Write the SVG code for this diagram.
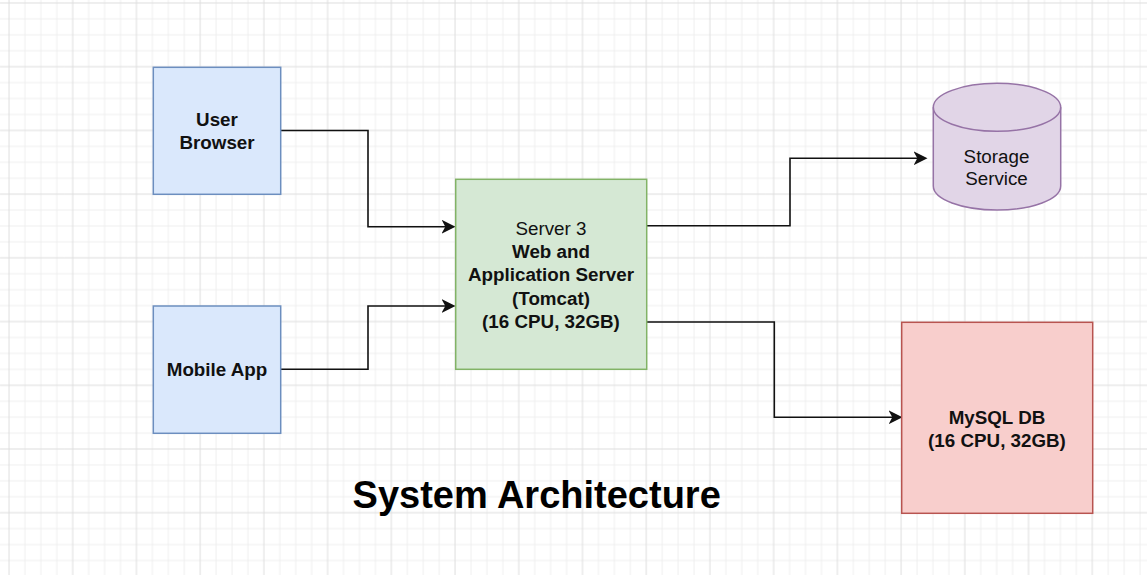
<svg xmlns="http://www.w3.org/2000/svg" width="1147" height="575" viewBox="0 0 1147 575">
  <style>
    .lbl { font-family: "Liberation Sans", Arial, Helvetica, sans-serif; font-size: 18.8px; fill: #111; text-anchor: middle; }
    .b { font-weight: bold; }
    .title { font-family: "Liberation Sans", Arial, Helvetica, sans-serif; font-size: 38px; font-weight: bold; fill: #000; text-anchor: middle; }
    .conn { fill: none; stroke: #111; stroke-width: 1.6; marker-end: url(#arrow); }
    .blue { fill: #dae8fc; stroke: #6c8ebf; stroke-width: 1.5; }
    .green { fill: #d5e8d4; stroke: #82b366; stroke-width: 1.5; }
    .purple { fill: #e1d5e7; stroke: #9673a6; stroke-width: 1.5; }
    .red { fill: #f8cecc; stroke: #b85450; stroke-width: 1.5; }
  </style>
  <defs>
    <pattern id="grid" patternUnits="userSpaceOnUse" x="1" y="-5" width="63.72" height="63.72">
      <path d="M23.93 0V63.72M39.86 0V63.72M55.79 0V63.72M0 23.93H63.72M0 39.86H63.72M0 55.79H63.72" stroke="#efefef" stroke-width="1" fill="none"/>
      <path d="M8 0V63.72M0 8H63.72" stroke="#dedede" stroke-width="1" fill="none"/>
    </pattern>
    <marker id="arrow" markerUnits="userSpaceOnUse" markerWidth="15" markerHeight="15" refX="10.5" refY="7" orient="auto">
      <path d="M0 0L14 7L0 14L3.8 7Z" fill="#111"/>
    </marker>
  </defs>
  <rect x="0" y="0" width="1147" height="575" fill="#ffffff"/>
  <rect x="0" y="0" width="1147" height="575" fill="url(#grid)"/>

  <g id="connectors">
    <path class="conn" d="M281 130.5H368V226.7H452"/>
    <path class="conn" d="M281 369.3H368V306H452"/>
    <path class="conn" d="M647 225.7H790V158.3H924"/>
    <path class="conn" d="M647 322H774.3V417.3H899"/>
  </g>

  <g id="user-browser">
    <rect class="blue" x="153.3" y="67.3" width="127.4" height="127"/>
    <text class="lbl b" x="217" y="126">User</text>
    <text class="lbl b" x="217" y="149.3">Browser</text>
  </g>

  <g id="mobile-app">
    <rect class="blue" x="153.3" y="306" width="127.4" height="127.3"/>
    <text class="lbl b" x="217" y="376">Mobile App</text>
  </g>

  <g id="server">
    <rect class="green" x="455.7" y="179.3" width="191" height="190"/>
    <text class="lbl" x="551" y="234.7">Server 3</text>
    <text class="lbl b" x="551" y="258">Web and</text>
    <text class="lbl b" x="551" y="281.3">Application Server</text>
    <text class="lbl b" x="551" y="304.6">(Tomcat)</text>
    <text class="lbl b" x="551" y="327.9">(16 CPU, 32GB)</text>
  </g>

  <g id="storage">
    <path class="purple" d="M933.3 107.3A63.7 24 0 0 1 1060.7 107.3V186A63.7 24 0 0 1 933.3 186Z"/>
    <path class="purple" d="M933.3 107.3A63.7 24 0 0 0 1060.7 107.3" style="fill:none"/>
    <text class="lbl" x="996.5" y="163.2">Storage</text>
    <text class="lbl" x="996.5" y="185.2">Service</text>
  </g>

  <g id="mysql">
    <rect class="red" x="901.7" y="322.3" width="191" height="191"/>
    <text class="lbl b" x="997" y="424.3">MySQL DB</text>
    <text class="lbl b" x="997" y="447.3">(16 CPU, 32GB)</text>
  </g>

  <g id="title">
    <text class="title" x="536.7" y="508.3">System Architecture</text>
  </g>
</svg>
